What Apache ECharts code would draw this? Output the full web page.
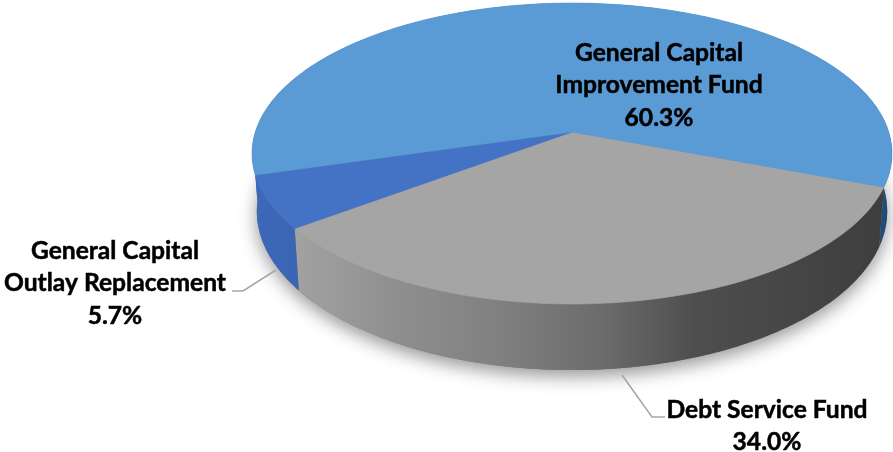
<!DOCTYPE html>
<html>
<head>
<meta charset="utf-8">
<style>html,body{margin:0;padding:0;background:#fff}#c{width:893px;height:452px}</style>
<script src="https://cdn.jsdelivr.net/npm/echarts@6/dist/echarts.min.js"></script>
</head>
<body>
<div id="c"></div>
<script>
// Data, clockwise from the right-hand boundary of the grey slice
var categories = ['Debt Service Fund', 'General Capital Outlay Replacement', 'General Capital Improvement Fund'];
var shares = [34.0, 5.7, 60.3];
var labelNames = [['Debt Service Fund'], ['General Capital', 'Outlay Replacement'], ['General Capital', 'Improvement Fund']];

// Styles
var topColors = ['#a5a5a5', '#4472c4', '#5b9bd5'];
var wallFills = [
  {type:'linear',x:0,y:0,x2:1,y2:0,colorStops:[
    {offset:0,color:'#a2a2a2'},{offset:.18,color:'#8e8e8e'},{offset:.35,color:'#808080'},
    {offset:.52,color:'#6c6c6c'},{offset:.68,color:'#4e4e4e'},{offset:.86,color:'#454545'},{offset:1,color:'#3e3e3e'}]},
  {type:'linear',x:0,y:0,x2:1,y2:0,colorStops:[{offset:0,color:'#3c68b8'},{offset:1,color:'#3a65b3'}]},
  {type:'linear',x:0,y:0,x2:1,y2:0,colorStops:[{offset:0,color:'#3c68b8'},{offset:.9,color:'#2f6394'},{offset:1,color:'#1d4a73'}]}
];
var labelAnchors = [{x:767,y:410},{x:115,y:251},{x:659,y:53}];
var leaders = [
  [[622,375],[652,417],[665,417]],
  [[276,270],[243,291],[232,291]],
  null
];

// Projection of the tilted disc
var apexX = 572, apexY = 132, Rx = 316.7, Ry = 147.4, k = 0.143, depth = 56.6, startDeg = 20.8;
function pt(deg, lower) {
  var a = deg * Math.PI / 180, u = Math.cos(a), v = Math.sin(a), w = 1 - k * v;
  var sx = lower ? 0.985 : 1;
  return [apexX + sx * Rx * u / w, apexY + Ry * v / w + (lower ? depth / w : 0)];
}
function sweep(i) {
  var s = startDeg, total = shares.reduce(function (p, c) { return p + c; }, 0);
  for (var j = 0; j < i; j++) s += shares[j] / total * 360;
  return [s, s + shares[i] / total * 360];
}
function arc(a, b, lower) {
  var out = [], n = Math.max(2, Math.ceil(Math.abs(b - a)));
  for (var i = 0; i <= n; i++) out.push(pt(a + (b - a) * i / n, lower));
  return out;
}
var rows = shares.map(function (v, i) { return [i, v]; });

var option = {
  animation: false,
  backgroundColor: '#ffffff',
  series: [
    { // soft shadow below the solid
      type: 'custom', coordinateSystem: 'none', silent: true, z: 1,
      data: [[0]],
      renderItem: function () {
        return {type:'polygon', shape:{points:arc(0,360,true)},
          style:{fill:'#777', shadowBlur:18, shadowColor:'rgba(0,0,0,0.42)', shadowOffsetY:6}};
      }
    },
    { // side walls
      type: 'custom', coordinateSystem: 'none', silent: true, z: 2,
      data: rows,
      renderItem: function (p, api) {
        var i = api.value(0), s = sweep(i);
        var pts = arc(s[0], s[1], false).concat(arc(s[0], s[1], true).reverse());
        return {type:'polygon', shape:{points:pts}, style:{fill:wallFills[i]}};
      }
    },
    { // top surface
      type: 'custom', coordinateSystem: 'none', silent: true, z: 3,
      data: rows,
      renderItem: function (p, api) {
        var i = api.value(0), s = sweep(i);
        var pts = [[apexX, apexY]].concat(arc(s[0], s[1], false));
        return {type:'polygon', shape:{points:pts},
          style:{fill:topColors[i], stroke:topColors[i], lineWidth:0.6}};
      }
    },
    { // leader lines and labels
      type: 'custom', coordinateSystem: 'none', silent: true, z: 4,
      data: rows,
      renderItem: function (p, api) {
        var i = api.value(0), kids = [], a = labelAnchors[i];
        if (leaders[i]) kids.push({type:'polyline', shape:{points:leaders[i]},
          style:{stroke:'#a6a6a6', lineWidth:1.5, fill:null}});
        var lines = labelNames[i].concat([shares[i].toFixed(1) + '%']);
        lines.forEach(function (t, j) {
          kids.push({type:'text', x:a.x, y:a.y + j * 32.5,
            style:{text:t, fill:'#000', stroke:'#000', lineWidth:0.5,
              font:'bold 24.6px Lato, "Open Sans", sans-serif',
              textAlign:'center', textVerticalAlign:'middle'}});
        });
        return {type:'group', children:kids};
      }
    }
  ]
};
var chart = echarts.init(document.getElementById('c'), null, {renderer:'canvas'});
chart.setOption(option);
</script>
</body>
</html>
